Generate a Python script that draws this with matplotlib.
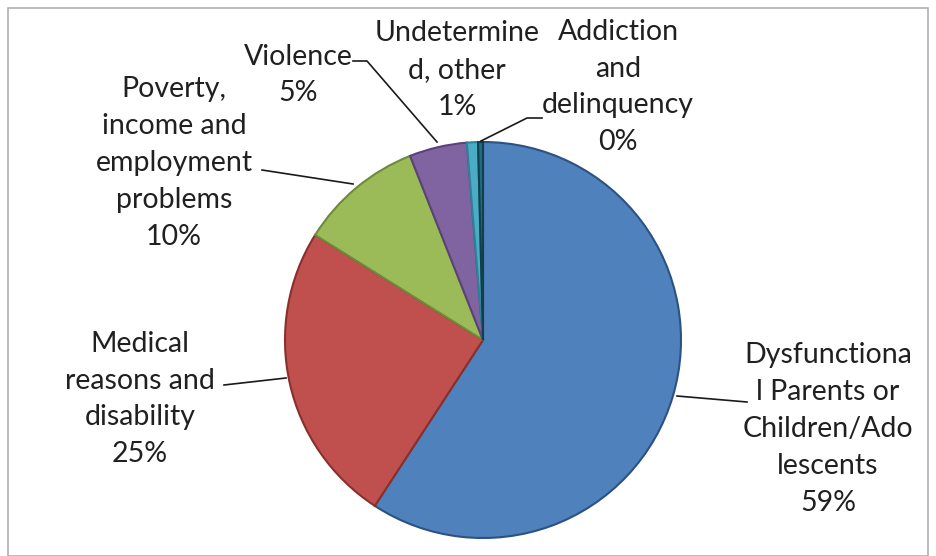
import matplotlib.pyplot as plt
from matplotlib.patches import Rectangle

# Данні
labels = ["Dysfunctiona\nl Parents or\nChildren/Ado\nlescents",
          "Medical\nreasons and\ndisability",
          "Poverty,\nincome and\nemployment\nproblems",
          "Violence",
          "Undetermine\nd, other",
          "Addiction\nand\ndelinquency"]
values = [59.2, 24.7, 10.1, 4.7, 0.9, 0.4]
pcts = ["59%", "25%", "10%", "5%", "1%", "0%"]
colors = ["#4F81BD", "#C0504D", "#9BBB59", "#8064A2", "#4BACC6", "#1F6F80"]
edges = ["#2C5282", "#8B2F2C", "#6E8A3A", "#5A4378", "#2E8199", "#123F4A"]

W, H = 936, 556
CX, CY, R = 483, 340, 198


def px(x, y):
    """Пікселі -> координати даних пирога."""
    return (x - CX) / R, (CY - y) / R


fig = plt.figure(figsize=(W / 100, H / 100), dpi=100)
plt.rcParams['font.family'] = ['Lato', 'DejaVu Sans']
fig.patches.append(Rectangle((8 / W, 0), (928 - 8) / W, (556 - 8) / H,
                             transform=fig.transFigure, fill=False,
                             edgecolor="#B0B0B0", linewidth=1.2))

ax = fig.add_axes([(CX - R) / W, (H - CY - R) / H, 2 * R / W, 2 * R / H])
wedges, _ = ax.pie(values, colors=colors, startangle=90, counterclock=False,
                   radius=1, wedgeprops=dict(linewidth=1.5))
for w, e in zip(wedges, edges):
    w.set_edgecolor(e)
ax.set_xlim(-1, 1)
ax.set_ylim(-1, 1)
ax.set_aspect("equal")
ax.axis("off")

# Підписи: центр тексту (пікселі)
label_pos = [(828, 429), (140, 399), (174, 163), (298, 75), (457, 70), (618, 87)]
for lab, p, pos in zip(labels, pcts, label_pos):
    tx, ty = px(*pos)
    ax.text(tx, ty, lab + "\n" + p, ha="center", va="center", fontsize=20.5,
            color="#202020", linespacing=1.52, clip_on=False)

# Лінії-виноски
leaders = [
    [(677, 396), (747, 402)],
    [(224, 385), (286, 378)],
    [(262, 170), (353, 184)],
    [(353, 61), (367, 61), (437, 142)],
    [(542, 118), (527, 118), (481, 141)],
]
for pts in leaders:
    xs, ys = zip(*[px(*q) for q in pts])
    ax.plot(xs, ys, color="#1A1A1A", linewidth=1.2, clip_on=False)

fig.savefig("out.png", dpi=100)
